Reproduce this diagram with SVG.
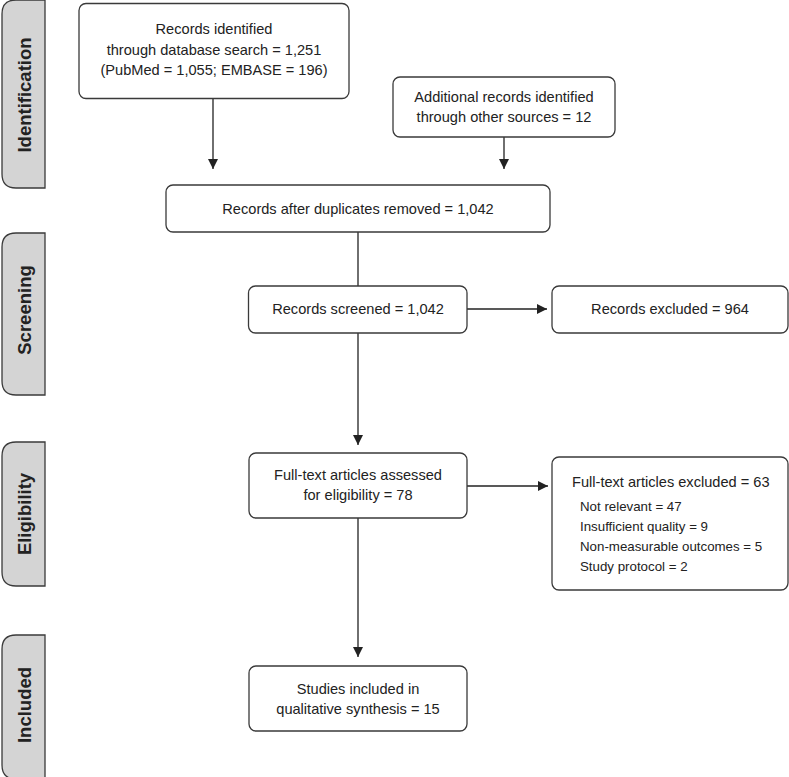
<svg xmlns="http://www.w3.org/2000/svg" width="789" height="777" viewBox="0 0 789 777">
<style>
.box{fill:#fff;stroke:#3a3a3a;stroke-width:1.3}
.tab{fill:#d4d4d4;stroke:#3a3a3a;stroke-width:1.3}
.t{font-family:"Liberation Sans",Arial,sans-serif;font-size:14.6px;fill:#222;text-anchor:middle}
.s{font-family:"Liberation Sans",Arial,sans-serif;font-size:13.3px;fill:#222}
.tl{font-family:"Liberation Sans",Arial,sans-serif;font-size:18.5px;font-weight:bold;fill:#222;text-anchor:middle}
.c{stroke:#222;stroke-width:1.3;fill:none}
</style>
<defs>
<marker id="ah" markerWidth="10" markerHeight="10" refX="10" refY="5" orient="auto" markerUnits="userSpaceOnUse">
<path d="M0,0 L10,5 L0,10 Z" fill="#222"/>
</marker>
</defs>
<g id="tab-identification">
<path class="tab" d="M45,0 L45,188 L16,188 Q2,188 2,174 L2,14 Q2,0 16,0 Z"/>
<text class="tl" transform="translate(31,95) rotate(-90)">Identification</text>
</g>
<g id="tab-screening">
<path class="tab" d="M45,233 L45,395 L16,395 Q2,395 2,381 L2,247 Q2,233 16,233 Z"/>
<text class="tl" transform="translate(31,310) rotate(-90)">Screening</text>
</g>
<g id="tab-eligibility">
<path class="tab" d="M45,442 L45,586 L16,586 Q2,586 2,572 L2,456 Q2,442 16,442 Z"/>
<text class="tl" transform="translate(31,514) rotate(-90)">Eligibility</text>
</g>
<g id="tab-included">
<path class="tab" d="M45,635 L45,779 L16,779 Q2,779 2,765 L2,649 Q2,635 16,635 Z"/>
<text class="tl" transform="translate(31,705) rotate(-90)">Included</text>
</g>
<g id="connectors">
<line class="c" x1="213" y1="98" x2="213" y2="169" marker-end="url(#ah)"/>
<line class="c" x1="504" y1="137" x2="504" y2="169" marker-end="url(#ah)"/>
<line class="c" x1="358" y1="232" x2="358" y2="286"/>
<line class="c" x1="467" y1="309" x2="547" y2="309" marker-end="url(#ah)"/>
<line class="c" x1="358" y1="333" x2="358" y2="445" marker-end="url(#ah)"/>
<line class="c" x1="467" y1="486" x2="548" y2="486" marker-end="url(#ah)"/>
<line class="c" x1="358" y1="518" x2="358" y2="657" marker-end="url(#ah)"/>
</g>
<g id="n-database">
<rect class="box" x="79" y="3.5" width="270" height="95" rx="7"/>
<text class="t" x="214" y="34">Records identified</text>
<text class="t" x="214" y="54.5">through database search = 1,251</text>
<text class="t" x="214" y="75">(PubMed = 1,055; EMBASE = 196)</text>
</g>
<g id="n-additional">
<rect class="box" x="393" y="77" width="222" height="60" rx="7"/>
<text class="t" x="504" y="102">Additional records identified</text>
<text class="t" x="504" y="122">through other sources = 12</text>
</g>
<g id="n-duplicates">
<rect class="box" x="166" y="185" width="384" height="47" rx="7"/>
<text class="t" x="358" y="214">Records after duplicates removed = 1,042</text>
</g>
<g id="n-screened">
<rect class="box" x="248.5" y="286" width="218.5" height="47" rx="7"/>
<text class="t" x="358" y="314">Records screened = 1,042</text>
</g>
<g id="n-excluded">
<rect class="box" x="552" y="286" width="236" height="47" rx="7"/>
<text class="t" x="670" y="314">Records excluded = 964</text>
</g>
<g id="n-fulltext">
<rect class="box" x="249" y="453" width="218" height="65" rx="7"/>
<text class="t" x="358" y="480">Full-text articles assessed</text>
<text class="t" x="358" y="500">for eligibility = 78</text>
</g>
<g id="n-ft-excluded">
<rect class="box" x="552" y="457" width="236" height="133" rx="7"/>
<text class="t" x="572" y="487" style="text-anchor:start">Full-text articles excluded = 63</text>
<text class="s" x="580" y="511">Not relevant = 47</text>
<text class="s" x="580" y="531">Insufficient quality = 9</text>
<text class="s" x="580" y="551">Non-measurable outcomes = 5</text>
<text class="s" x="580" y="571">Study protocol = 2</text>
</g>
<g id="n-included">
<rect class="box" x="249" y="666" width="218" height="65" rx="7"/>
<text class="t" x="358" y="694">Studies included in</text>
<text class="t" x="358" y="714">qualitative synthesis = 15</text>
</g>
</svg>
